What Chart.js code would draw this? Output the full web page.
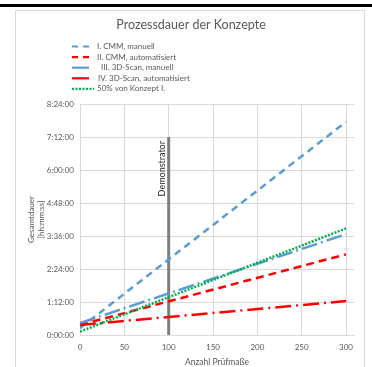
<!DOCTYPE html>
<html>
<head>
<meta charset="utf-8">
<script src="https://cdn.jsdelivr.net/npm/chart.js@4/dist/chart.umd.min.js"></script>
<style>
  html, body { margin: 0; padding: 0; background: #fff; }
  #wrap { position: relative; width: 372px; height: 367px; overflow: hidden; }
  #topbar { position: absolute; left: 0; top: 4px; width: 372px; height: 3px; background: #000; }
  #frame { position: absolute; left: 15px; top: 10px; width: 350px; height: 370px; border: 1px solid #d9d9d9; box-sizing: border-box; }
  #chart { position: absolute; left: 0; top: 0; }
</style>
</head>
<body>
<div id="wrap">
  <div id="topbar"></div>
  <div id="frame"></div>
  <canvas id="chart" width="372" height="367"></canvas>
</div>
<script>
// Number of measured features (x) and total duration in minutes (y)
const measures = [0, 300];
const cmmManual = [15, 465];          // I. CMM, manuell
const cmmAuto = [22, 176];            // II. CMM, automatisiert
const scanManual = [26, 220];         // III. 3D-Scan, manuell
const scanAuto = [22, 74];            // IV. 3D-Scan, automatisiert
const halfOfConceptI = [7.5, 232.5];  // 50% von Konzept I.

const seriesNames = [
  'I. CMM, manuell',
  'II. CMM, automatisiert',
  'III. 3D-Scan, manuell',
  'IV. 3D-Scan, automatisiert',
  '50% von Konzept I.'
];

// Axis ticks: feature counts and durations in minutes
const xTicks = [0, 50, 100, 150, 200, 250, 300];
const yTicks = [0, 72, 144, 216, 288, 360, 432, 504];

// Demonstrator marker: at 100 features, reaching up to 7:12:00
const demoX = 100;
const demoY = [0, 432];
const demoLabel = 'Demonstrator';

const chartTitle = 'Prozessdauer der Konzepte';
const xTitle = 'Anzahl Prüfmaße';
const yTitle = ['Gesamtdauer', '[hh:mm:ss]'];

const FONT = "Lato, 'Liberation Sans', sans-serif";
const TEXT = '#595959';
const GRID = '#d9d9d9';

function pts(ys) { return measures.map((x, i) => ({ x: x, y: ys[i] })); }

function fmtMinutes(v) {
  const h = Math.floor(v / 60);
  const m = Math.round(v - h * 60);
  return h + ':' + String(m).padStart(2, '0') + ':00';
}

const styles = [
  { color: '#5b9bd5', dash: [7, 5] },
  { color: '#ff0000', dash: [8, 5] },
  { color: '#5b9bd5', dash: [16, 4, 2, 4] },
  { color: '#ff0000', dash: [16, 5, 2, 5] },
  { color: '#00b050', dash: [2, 1.5] }
];
const values = [cmmManual, cmmAuto, scanManual, scanAuto, halfOfConceptI];

const datasets = values.map((v, i) => ({
  label: seriesNames[i],
  data: pts(v),
  borderColor: styles[i].color,
  borderDash: styles[i].dash,
  borderWidth: 2.5,
  pointRadius: 0,
  fill: false,
  tension: 0,
  order: 5 - i
}));

datasets.unshift({
  label: demoLabel,
  data: demoY.map(y => ({ x: demoX, y: y })),
  borderColor: '#7f7f7f',
  borderWidth: 3,
  pointRadius: 0,
  fill: false,
  order: 10
});

// Title, legend column and the rotated demonstrator caption
const legendTextX = [97, 97, 101, 98, 97];
const decorations = {
  id: 'decorations',
  afterDraw(chart) {
    const ctx = chart.ctx;
    ctx.save();
    ctx.fillStyle = TEXT;
    ctx.font = '12.5px ' + FONT;
    ctx.textAlign = 'center';
    ctx.textBaseline = 'middle';
    ctx.fillText(chartTitle, 191, 25);

    ctx.font = '8px ' + FONT;
    ctx.textAlign = 'left';
    for (let i = 0; i < seriesNames.length; i++) {
      const y = 46.5 + i * 10.6;
      ctx.save();
      ctx.strokeStyle = styles[i].color;
      ctx.lineWidth = 2.2;
      ctx.setLineDash(i === 4 ? [2, 1.5] : (i < 2 ? [6, 5] : []));
      ctx.beginPath();
      ctx.moveTo(72, y);
      ctx.lineTo(i === 4 ? 94 : 89, y);
      ctx.stroke();
      ctx.restore();
      ctx.fillStyle = TEXT;
      ctx.fillText(seriesNames[i], legendTextX[i], y);
    }

    const xs = chart.scales.x, ys = chart.scales.y;
    const px = xs.getPixelForValue(demoX);
    const py = ys.getPixelForValue(demoY[1]);
    ctx.translate(px - 7, py + 4);
    ctx.rotate(-Math.PI / 2);
    ctx.fillStyle = '#262626';
    ctx.font = '9px ' + FONT;
    ctx.textAlign = 'right';
    ctx.textBaseline = 'middle';
    ctx.fillText(demoLabel, 0, 0);
    ctx.restore();
  }
};

new Chart(document.getElementById('chart'), {
  type: 'line',
  data: { datasets: datasets },
  options: {
    responsive: false,
    animation: false,
    devicePixelRatio: 1,
    layout: { padding: { top: 104, left: 15, right: 18, bottom: 0 } },
    plugins: { legend: { display: false }, title: { display: false }, tooltip: { enabled: false } },
    scales: {
      x: {
        type: 'linear',
        min: 0,
        max: 309,
        afterBuildTicks(scale) { scale.ticks = xTicks.map(v => ({ value: v })); },
        afterFit(scale) { scale.height = 32; },
        ticks: { autoSkip: false, color: TEXT, font: { family: FONT, size: 8 }, padding: 8, maxRotation: 0 },
        grid: { color: GRID, drawTicks: false },
        border: { color: GRID },
        title: { display: true, text: xTitle, color: TEXT, font: { family: FONT, size: 8.5 }, padding: { top: 1, bottom: 0 } }
      },
      y: {
        min: 0,
        max: 504,
        afterBuildTicks(scale) { scale.ticks = yTicks.map(v => ({ value: v })); },
        afterFit(scale) { scale.width = 65; },
        ticks: { autoSkip: false, color: TEXT, font: { family: FONT, size: 8 }, padding: 6, callback: v => fmtMinutes(v) },
        grid: { color: GRID, drawTicks: false },
        border: { color: GRID },
        title: { display: true, text: yTitle, color: TEXT, font: { family: FONT, size: 8 }, padding: { top: 12, bottom: 0 } }
      }
    }
  },
  plugins: [decorations]
});
</script>
</body>
</html>
